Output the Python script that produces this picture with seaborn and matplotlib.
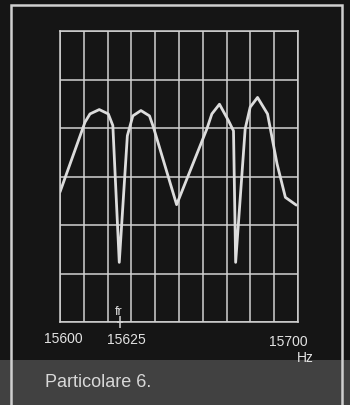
import numpy as np
import pandas as pd
import matplotlib
matplotlib.use("Agg")
import matplotlib.pyplot as plt
from matplotlib.patches import Rectangle
import seaborn as sns

# trace: frequency (Hz) vs level (grid divisions)
freq_hz = [15600.0, 15610.5, 15612.6, 15616.5, 15620.3, 15622.2, 15624.9,
           15628.3, 15630.6, 15634.0, 15637.6, 15639.3, 15649.0, 15661.7,
           15663.8, 15667.0, 15670.8, 15672.9, 15673.8, 15677.8, 15679.9,
           15683.0, 15687.2, 15691.2, 15694.7, 15699.3]
level_div = [2.68, 4.12, 4.29, 4.38, 4.29, 4.05, 1.23,
             3.84, 4.25, 4.36, 4.25, 4.01, 2.42, 3.98,
             4.29, 4.49, 4.15, 3.94, 1.23, 3.98, 4.43,
             4.63, 4.29, 3.26, 2.57, 2.41]
fr_hz = 15625
tick_labels = ["15600", "15625", "15700"]
caption = "Particolare 6."

bg = "#151515"
fg = "#d2d2d2"

sns.set_theme(style="dark", rc={"axes.facecolor": bg, "figure.facecolor": bg})
plt.rcParams["font.family"] = ["Liberation Sans", "DejaVu Sans"]

df = pd.DataFrame({"freq": freq_hz, "level": level_div})

fig = plt.figure(figsize=(3.5, 4.06), dpi=100)
ax = fig.add_axes([60 / 350, 1 - 323 / 406, 238 / 350, 291 / 406])

sns.lineplot(data=df, x="freq", y="level", ax=ax, color="#dcdcdc",
             linewidth=2.0, sort=False)

ax.set_xlim(15600, 15700)
ax.set_ylim(0, 6)
ax.set_xticks(np.arange(15600, 15701, 10))
ax.set_yticks(np.arange(0, 7, 1))
ax.grid(True, color=fg, linewidth=1.1)
ax.tick_params(left=False, bottom=False, labelleft=False, labelbottom=False)
for s in ax.spines.values():
    s.set_visible(True)
    s.set_color(fg)
    s.set_linewidth(1.1)
ax.set_xlabel("")
ax.set_ylabel("")

# fr marker at the bottom edge
ax.plot([fr_hz], [0], marker="|", markersize=9, color=fg, mew=1.1, clip_on=False)
ax.plot([fr_hz], [0], marker="_", markersize=5, color=fg, mew=1.1, clip_on=False)

# caption bar and outer frame
fig.add_artist(Rectangle((0, 0), 1, (406 - 361) / 406, transform=fig.transFigure,
                         facecolor="#414141", edgecolor="none", zorder=0))
fig.add_artist(Rectangle((11 / 350, -0.05), (342 - 11) / 350, 1 - 6 / 406 + 0.05,
                         transform=fig.transFigure, fill=False,
                         edgecolor="#cfcfcf", linewidth=1.8))

fig.text(63 / 350, 1 - 339 / 406, tick_labels[0], color="#e2e2e2", fontsize=10,
         ha="center", va="center")
fig.text(126 / 350, 1 - 340 / 406, tick_labels[1], color="#e2e2e2", fontsize=10,
         ha="center", va="center")
fig.text(288 / 350, 1 - 342 / 406, tick_labels[2], color="#e2e2e2", fontsize=10,
         ha="center", va="center")
fig.text(305 / 350, 1 - 358 / 406, "Hz", color="#e2e2e2", fontsize=10,
         ha="center", va="center")
fig.text(119 / 350, 1 - 312 / 406, "fr", color="#e2e2e2", fontsize=9,
         ha="center", va="center")
fig.text(45 / 350, 1 - 383 / 406, caption, color="#d8d8d8", fontsize=13,
         ha="left", va="center")

fig.savefig("out.png", dpi=100, facecolor=bg)
